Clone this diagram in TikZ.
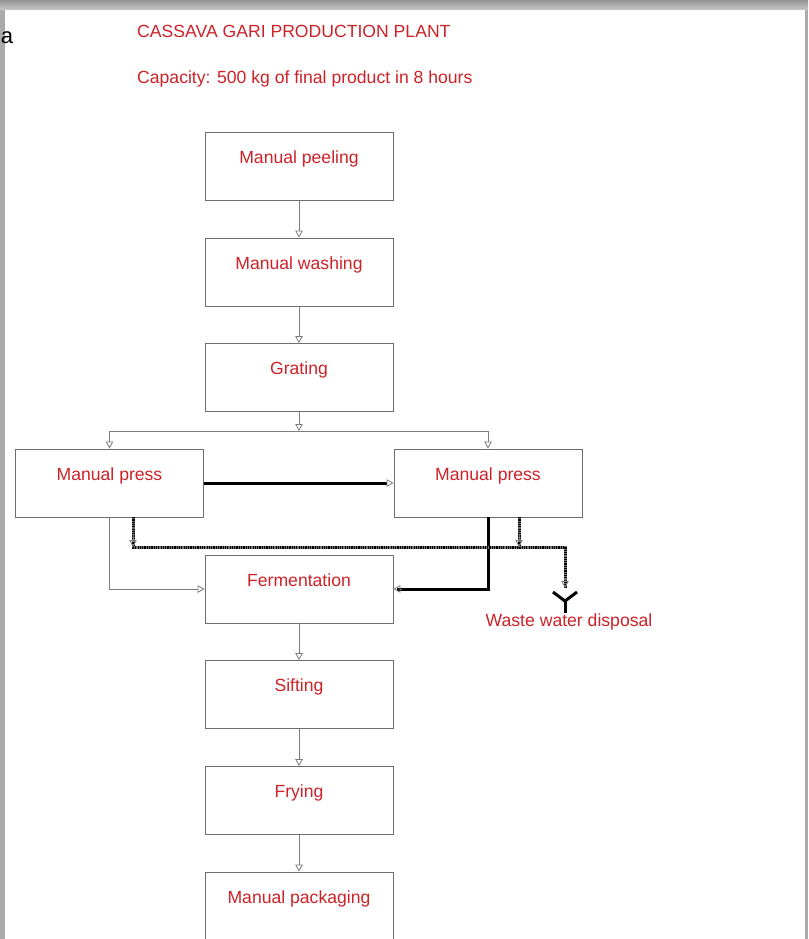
\documentclass[tikz,border=0pt]{standalone}
\usepackage{fontspec}
\setmainfont{Liberation Sans}
\usetikzlibrary{arrows.meta}
\definecolor{txtred}{RGB}{204,34,40}
\definecolor{boxgray}{RGB}{110,110,110}
\definecolor{linegray}{RGB}{125,125,125}
\tikzset{
  box/.style={draw=boxgray,line width=0.8pt,minimum width=188pt,minimum height=68pt,
    inner sep=0pt,text=txtred,font=\fontsize{17.6}{20}\selectfont,text height=13pt,text depth=19pt},
  lbl/.style={text=txtred,font=\fontsize{17.6}{20}\selectfont,inner sep=0pt,text height=13pt,text depth=4pt},
  thinline/.style={draw=linegray,line width=0.8pt},
  thinarr/.style={draw=linegray,line width=0.8pt,-{Triangle[open,length=7pt,width=7.5pt]}},
  thickarr/.style={draw=black,line width=3pt,-{Triangle[open,length=7pt,width=7.5pt,line width=0.8pt,color=linegray]}},
  thickline/.style={draw=black,line width=3pt},
  wasteline/.style={draw=black!55,line width=3pt,postaction={draw=black,line width=3pt,dash pattern=on 1.2pt off 1.1pt}}
}
\begin{document}
\begin{tikzpicture}[x=1pt,y=-1pt]
\useasboundingbox (0,0) rectangle (808,939);
% page shadow
\fill[black!33] (0,0) rectangle (808,939);
\shade[top color=black!42,bottom color=black!22] (0,0) rectangle (808,10);
\fill[white] (5,10) rectangle (805,945);
\node[inner sep=0pt,font=\fontsize{22}{24}\selectfont\rmfamily] (stray) at (7,38) {a};
% titles
\node[lbl,anchor=west] (title) at (137,33) {CASSAVA GARI PRODUCTION PLANT};
\node[lbl,anchor=west] (cap) at (137,79) {Capacity: 500 kg of final product in 8 hours};
% boxes
\node[box] (pe) at (299,166) {Manual peeling};
\node[box] (wa) at (299,272) {Manual washing};
\node[box] (gr) at (299,377.5) {Grating};
\node[box] (lp) at (109.5,483) {Manual press};
\node[box] (rp) at (488,483) {Manual press};
\node[box] (fe) at (299,589) {Fermentation};
\node[box] (si) at (299,694.5) {Sifting};
\node[box] (fr) at (299,800.5) {Frying};
\node[box] (pa) at (299,906) {Manual packaging};
\node[lbl] (ww) at (569,622) {Waste water disposal};
% coordinates
\coordinate (j) at (299,431);
\coordinate (jl) at (109.5,431);
\coordinate (jr) at (488,431);
\coordinate (lb) at (109.5,589);
\coordinate (rb) at (488,589);
\coordinate (dl) at (133,517);
\coordinate (dlc) at (133,547);
\coordinate (dr) at (519,517);
\coordinate (drc) at (519,547);
\coordinate (dc) at (565,547);
\coordinate (de) at (565,588);
\coordinate (yc) at (565,601);
% main chain
\draw[thinarr] (pe) -- (wa);
\draw[thinarr] (wa) -- (gr);
\draw[thinarr] (gr) -- (j);
\draw[thinline] (jl) -- (jr);
\draw[thinarr] (jl) -- (lp);
\draw[thinarr] (jr) -- (rp);
\draw[thinarr] (fe) -- (si);
\draw[thinarr] (si) -- (fr);
\draw[thinarr] (fr) -- (pa);
% press connections
\draw[thickarr] (lp.east) -- (rp.west);
\draw[thinarr] (lp.south) -- (lb) -- (fe.west);
\draw[thickline] (rp.south) -- (rb) -- ([xshift=4pt]fe.east);
\draw[thinarr] ([xshift=9pt]fe.east) -- (fe.east);
% waste water lines
\draw[wasteline] (dl) -- (dlc) -- (dc) -- (de);
\draw[wasteline] (dr) -- (drc);
\draw[thinarr] (133,535) -- (dlc);
\draw[thinarr] (519,535) -- (drc);
\draw[thinarr] (565,580) -- (de);
% Y symbol
\draw[thickline] (553,592) -- (yc) -- (577,592);
\draw[thickline] (yc) -- (565,613);
\end{tikzpicture}
\end{document}
